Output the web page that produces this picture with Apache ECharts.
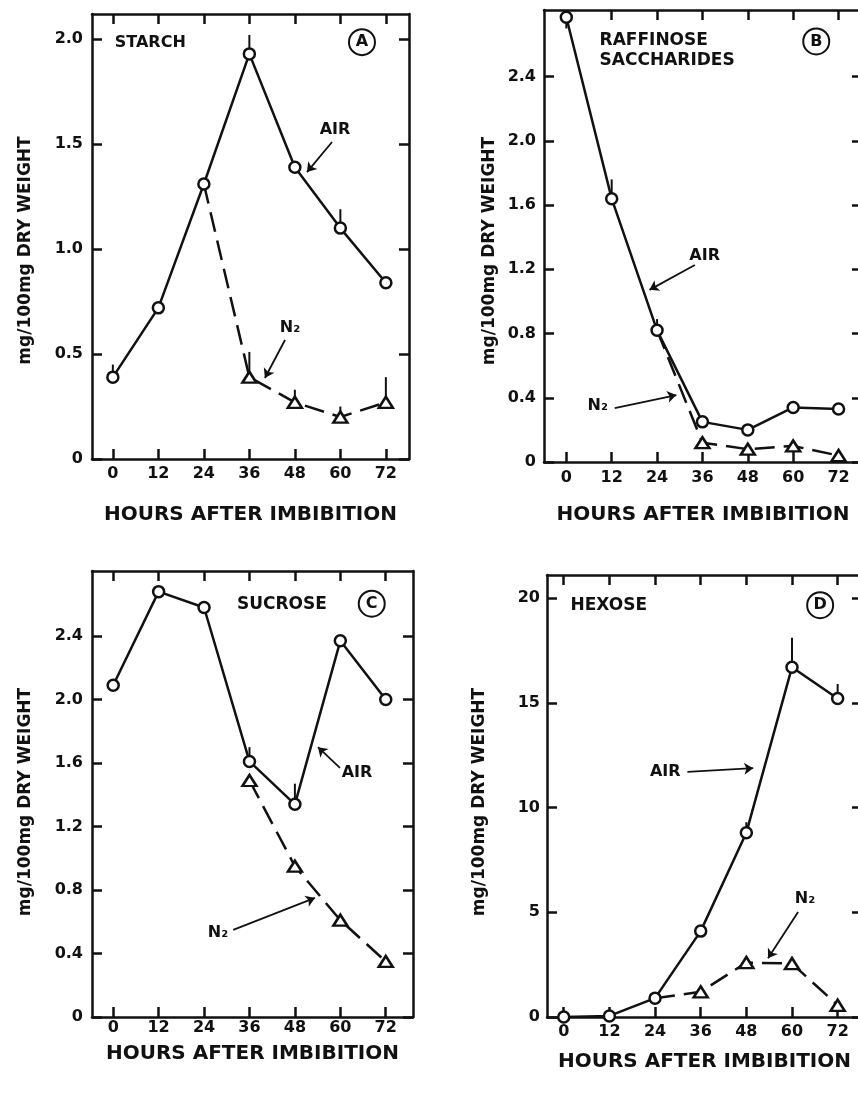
<!DOCTYPE html>
<html>
<head>
<meta charset="utf-8">
<title>Carbohydrates after imbibition</title>
<script src="https://cdn.jsdelivr.net/npm/echarts@6/dist/echarts.min.js"></script>
<style>body{margin:0;background:#fff}</style>
</head>
<body>
<div id="main" style="width:858px;height:1113px;"></div>
<script>
// hours after imbibition
const hours = [0, 12, 24, 36, 48, 60, 72];

// A - starch
const starchAir = [0.39, 0.72, 1.31, 1.93, 1.39, 1.10, 0.84];
const starchN2 = [null, null, 1.31, 0.39, 0.27, 0.20, 0.27];
const starchAirErr = [[0, 0.39, 0.45], [36, 1.93, 2.02], [60, 1.10, 1.19]];
const starchN2Err = [[36, 0.39, 0.51], [48, 0.27, 0.33], [60, 0.20, 0.25], [72, 0.27, 0.39]];

// B - raffinose saccharides
const raffAir = [2.77, 1.64, 0.82, 0.25, 0.20, 0.34, 0.33];
const raffN2 = [null, null, 0.82, 0.12, 0.08, 0.10, 0.04];
const raffAirErr = [[0, 2.77, 2.70], [12, 1.64, 1.76], [24, 0.82, 0.89]];
const raffN2Err = [];

// C - sucrose
const sucAir = [2.09, 2.68, 2.58, 1.61, 1.34, 2.37, 2.00];
const sucN2 = [null, null, null, 1.49, 0.95, 0.61, 0.35];
const sucAirErr = [[0, 2.09, 2.13], [36, 1.61, 1.70], [48, 1.34, 1.47]];
const sucN2Err = [];

// D - hexose
const hexAir = [0.0, 0.05, 0.9, 4.1, 8.8, 16.7, 15.2];
const hexN2 = [null, null, 0.9, 1.2, 2.6, 2.55, 0.56];
const hexAirErr = [[48, 8.8, 9.3], [60, 16.7, 18.1], [72, 15.2, 15.9]];
const hexN2Err = [];

const yTicksA = [0, 0.5, 1.0, 1.5, 2.0];
const yTicksBC = [0, 0.4, 0.8, 1.2, 1.6, 2.0, 2.4];
const yTicksD = [0, 5, 10, 15, 20];

const titles = ['STARCH', 'RAFFINOSE\nSACCHARIDES', 'SUCROSE', 'HEXOSE'];
const letters = ['A', 'B', 'C', 'D'];

// layout of the four panels (annotation spots are in data units)
const panels = [
    { air: starchAir, n2: starchN2, airErr: starchAirErr, n2Err: starchN2Err, yTicks: yTicksA,
      grid: { left: 92, top: 14, width: 317, height: 445 }, x: [-5.5, 78.1], y: [0, 2.12],
      xLabelGap: 7, xNameGap: 46, yLabelGap: 9, yNameGap: 58, yShift: 28,
      title: [0.5, 1.983], letter: [65.7, 1.986],
      airLabel: [58.6, 1.567], n2Label: [46.7, 0.624],
      airArrow: [[57.8, 1.51], [51.2, 1.367]], n2Arrow: [[45.4, 0.567], [40.1, 0.386]] },
    { air: raffAir, n2: raffN2, airErr: raffAirErr, n2Err: raffN2Err, yTicks: yTicksBC,
      grid: { left: 544, top: 10, width: 318, height: 452 }, x: [-5.9, 78.2], y: [0, 2.815],
      xLabelGap: 8, xNameGap: 43, yLabelGap: 8, yNameGap: 46, yShift: 30,
      title: [8.8, 2.56], letter: [66.1, 2.619],
      airLabel: [36.6, 1.283], n2Label: [8.3, 0.349],
      airArrow: [[34.0, 1.227], [22.0, 1.072]], n2Arrow: [[12.8, 0.336], [29.1, 0.417]] },
    { air: sucAir, n2: sucN2, airErr: sucAirErr, n2Err: sucN2Err, yTicks: yTicksBC,
      grid: { left: 92, top: 571, width: 321, height: 446 }, x: [-5.6, 79.2], y: [0, 2.81],
      xLabelGap: 3, xNameGap: 27, yLabelGap: 9, yNameGap: 58, yShift: 16,
      title: [32.7, 2.60], letter: [68.3, 2.604],
      airLabel: [64.4, 1.536], n2Label: [27.7, 0.53],
      airArrow: [[59.9, 1.569], [54.1, 1.70]], n2Arrow: [[31.7, 0.549], [53.3, 0.75]] },
    { air: hexAir, n2: hexN2, airErr: hexAirErr, n2Err: hexN2Err, yTicks: yTicksD,
      grid: { left: 547, top: 575, width: 315, height: 442 }, x: [-4.4, 78.4], y: [0, 21.1],
      xLabelGap: 7, xNameGap: 35, yLabelGap: 7, yNameGap: 59, yShift: 12,
      title: [1.76, 19.66], letter: [67.4, 19.66],
      airLabel: [26.7, 11.69], n2Label: [63.4, 5.62],
      airArrow: [[32.5, 11.7], [49.8, 11.88]], n2Arrow: [[61.6, 5.01], [53.7, 2.80]] }
];

const ink = '#111';
const font = 'DejaVu Sans';

var myChart = echarts.init(document.getElementById('main'));

let grids = [], xAxes = [], yAxes = [], series = [];

function errSeries(data, i) {
    return {
        type: 'custom', xAxisIndex: 2 * i, yAxisIndex: 2 * i, z: 1, silent: true,
        encode: { x: 0, y: [1, 2] },
        data: data,
        renderItem: function (params, api) {
            let a = api.coord([api.value(0), api.value(1)]);
            let b = api.coord([api.value(0), api.value(2)]);
            return { type: 'line', shape: { x1: a[0], y1: a[1], x2: b[0], y2: b[1] },
                     style: { stroke: ink, lineWidth: 2 } };
        }
    };
}

function textMark(coord, text, size, align) {
    return {
        coord: coord, symbol: 'circle', symbolSize: 1,
        itemStyle: { color: 'rgba(0,0,0,0)' },
        label: { show: true, position: 'inside', align: align, formatter: text,
                 fontFamily: font, fontWeight: 'bold', fontSize: size, lineHeight: 20, color: ink }
    };
}

panels.forEach((p, i) => {
    grids.push(Object.assign({ outerBoundsMode: 'none', containLabel: false }, p.grid));

    const tickStyle = { inside: true, length: 10, lineStyle: { color: ink, width: 2.5 } };
    const lineStyle = { onZero: false, lineStyle: { color: ink, width: 2.5 } };
    const yFmt = v => (v === 0 ? '0' : (p.yTicks === yTicksD ? String(v) : v.toFixed(1)));

    xAxes.push({
        type: 'value', gridIndex: i, min: p.x[0], max: p.x[1], position: 'bottom',
        axisLine: lineStyle,
        axisTick: Object.assign({ customValues: hours }, tickStyle),
        axisLabel: { customValues: hours, margin: p.xLabelGap, color: ink,
                     fontFamily: font, fontWeight: 'bold', fontSize: 16 },
        splitLine: { show: false },
        name: 'HOURS AFTER IMBIBITION', nameLocation: 'middle', nameGap: p.xNameGap,
        nameTextStyle: { color: ink, fontFamily: font, fontWeight: 'bold', fontSize: 20 }
    });
    xAxes.push({
        type: 'value', gridIndex: i, min: p.x[0], max: p.x[1], position: 'top',
        axisLine: lineStyle,
        axisTick: Object.assign({ customValues: hours }, tickStyle),
        axisLabel: { show: false }, splitLine: { show: false }
    });
    yAxes.push({
        type: 'value', gridIndex: i, min: p.y[0], max: p.y[1], position: 'left',
        axisLine: lineStyle,
        axisTick: Object.assign({ customValues: p.yTicks }, tickStyle),
        axisLabel: { customValues: p.yTicks, formatter: yFmt, margin: p.yLabelGap, color: ink,
                     fontFamily: font, fontWeight: 'bold', fontSize: 16 },
        splitLine: { show: false },
        name: 'mg/100mg DRY WEIGHT', nameLocation: 'middle', nameGap: p.yNameGap,
        nameTextStyle: { color: ink, fontFamily: font, fontWeight: 'bold', fontSize: 17,
                         padding: [0, p.yShift, 0, 0] }
    });
    yAxes.push({
        type: 'value', gridIndex: i, min: p.y[0], max: p.y[1], position: 'right',
        axisLine: lineStyle,
        axisTick: Object.assign({ customValues: p.yTicks }, tickStyle),
        axisLabel: { show: false }, splitLine: { show: false }
    });

    const airData = hours.map((h, k) => [h, p.air[k]]);
    const n2Data = [];
    hours.forEach((h, k) => {
        if (p.n2[k] == null) return;
        const item = { value: [h, p.n2[k]] };
        if (p.n2[k] === p.air[k]) item.symbol = 'none';   // branch point shared with AIR
        n2Data.push(item);
    });

    series.push(errSeries(p.airErr, i));
    series.push(errSeries(p.n2Err, i));

    series.push({
        name: 'N2', type: 'line', xAxisIndex: 2 * i, yAxisIndex: 2 * i, z: 3,
        data: n2Data, symbol: 'triangle', symbolSize: [14, 11],
        itemStyle: { color: '#fff', borderColor: ink, borderWidth: 2.5 },
        lineStyle: { color: ink, width: 2.5, type: [20, 9] }
    });
    series.push({
        name: 'AIR', type: 'line', xAxisIndex: 2 * i, yAxisIndex: 2 * i, z: 4,
        data: airData, symbol: 'circle', symbolSize: 11,
        itemStyle: { color: '#fff', borderColor: ink, borderWidth: 2.5 },
        lineStyle: { color: ink, width: 2.5 },
        markLine: {
            silent: true, symbol: ['none', 'arrow'], symbolSize: 9,
            lineStyle: { color: ink, width: 1.8, type: 'solid' },
            label: { show: false },
            data: [
                [{ coord: p.airArrow[0] }, { coord: p.airArrow[1] }],
                [{ coord: p.n2Arrow[0] }, { coord: p.n2Arrow[1] }]
            ]
        },
        markPoint: {
            silent: true,
            data: [
                textMark(p.title, titles[i], i === 0 ? 16 : 17, 'left'),
                textMark(p.airLabel, 'AIR', 16, 'center'),
                textMark(p.n2Label, 'N₂', 16, 'center'),
                {
                    coord: p.letter, symbol: 'circle', symbolSize: 26,
                    itemStyle: { color: '#fff', borderColor: ink, borderWidth: 2 },
                    label: { show: true, position: 'inside', formatter: letters[i], color: ink,
                             fontFamily: font, fontWeight: 'bold', fontSize: 16 }
                }
            ]
        }
    });
});

var option = {
    animation: false,
    backgroundColor: '#fff',
    textStyle: { fontFamily: font },
    grid: grids,
    xAxis: xAxes,
    yAxis: yAxes,
    series: series
};

myChart.setOption(option);
</script>
</body>
</html>
